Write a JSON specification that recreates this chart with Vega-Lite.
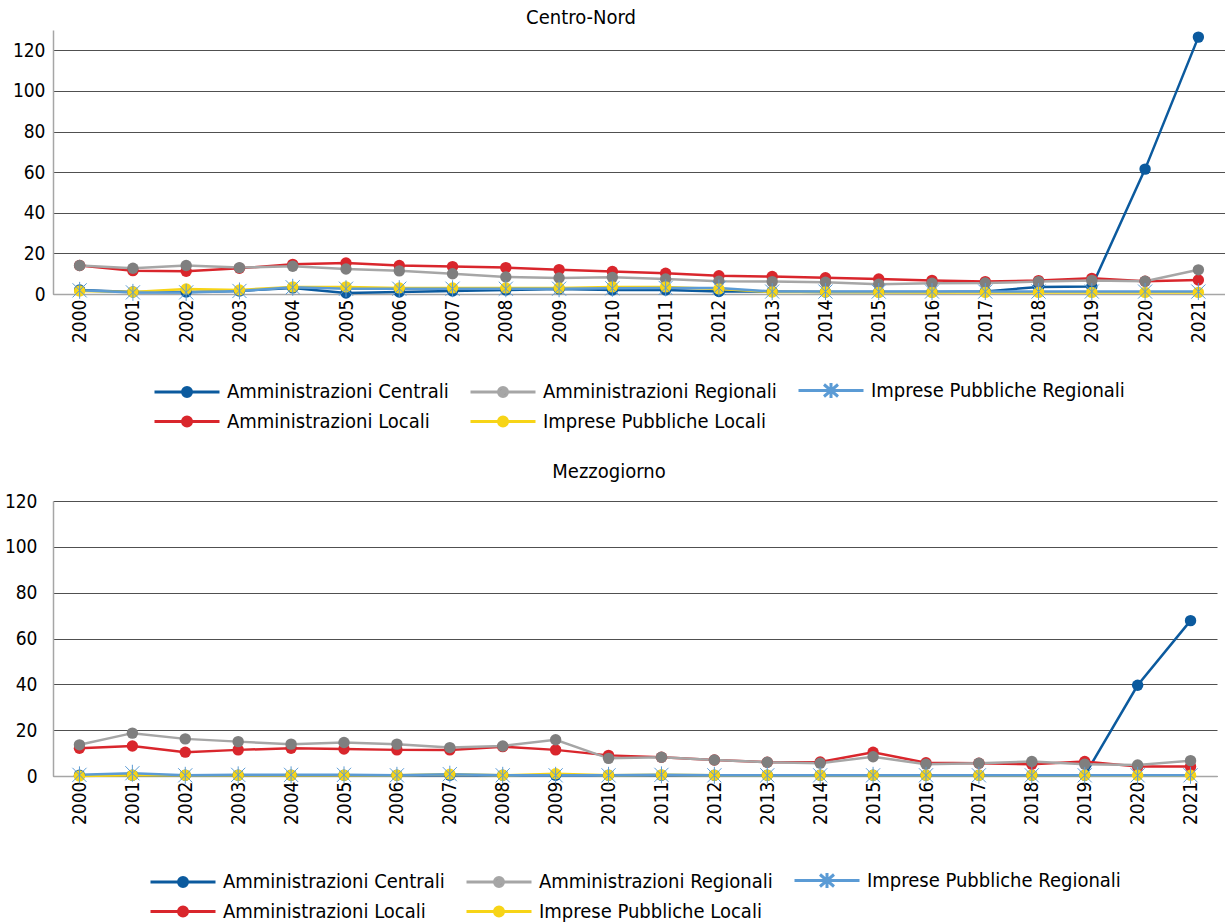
{
"$schema": "https://vega.github.io/schema/vega-lite/v6.json",
"padding": {"left": 4, "top": 8, "right": 0, "bottom": 0},
"spacing": 30,
"align": "none",
"config": {
 "font": "'DejaVu Sans Condensed', 'Roboto Condensed', Roboto",
 "view": {"stroke": null},
 "axis": {"labelFont": "'DejaVu Sans Condensed', 'Roboto Condensed', Roboto", "labelFontSize": 19, "labelColor": "#000", "title": null, "ticks": false},
 "legend": {"labelFont": "'DejaVu Sans Condensed', 'Roboto Condensed', Roboto", "labelFontSize": 20, "labelColor": "#000", "symbolOpacity": 1, "layout": {"bottom": {"anchor": "middle"}}},
 "title": {"font": "'DejaVu Sans Condensed', 'Roboto Condensed', Roboto", "fontSize": 20, "fontWeight": "normal", "color": "#000"}
},
"resolve": {"scale": {"stroke": "independent", "shape": "independent", "fill": "independent"}, "legend": {"stroke": "independent", "shape": "independent", "fill": "independent"}},
"datasets": {
"cn": [
{"y":"2000","s":"Amministrazioni Centrali","v":2},{"y":"2001","s":"Amministrazioni Centrali","v":1},{"y":"2002","s":"Amministrazioni Centrali","v":1},{"y":"2003","s":"Amministrazioni Centrali","v":1.5},{"y":"2004","s":"Amministrazioni Centrali","v":3},{"y":"2005","s":"Amministrazioni Centrali","v":0.5},{"y":"2006","s":"Amministrazioni Centrali","v":1},{"y":"2007","s":"Amministrazioni Centrali","v":1.5},{"y":"2008","s":"Amministrazioni Centrali","v":2},{"y":"2009","s":"Amministrazioni Centrali","v":2.5},{"y":"2010","s":"Amministrazioni Centrali","v":2},{"y":"2011","s":"Amministrazioni Centrali","v":2},{"y":"2012","s":"Amministrazioni Centrali","v":1.2},{"y":"2013","s":"Amministrazioni Centrali","v":1.2},{"y":"2014","s":"Amministrazioni Centrali","v":1},{"y":"2015","s":"Amministrazioni Centrali","v":1},{"y":"2016","s":"Amministrazioni Centrali","v":1},{"y":"2017","s":"Amministrazioni Centrali","v":1.2},{"y":"2018","s":"Amministrazioni Centrali","v":3.5},{"y":"2019","s":"Amministrazioni Centrali","v":3.7},{"y":"2020","s":"Amministrazioni Centrali","v":61.5},{"y":"2021","s":"Amministrazioni Centrali","v":126.5},
{"y":"2000","s":"Amministrazioni Locali","v":14},{"y":"2001","s":"Amministrazioni Locali","v":11.5},{"y":"2002","s":"Amministrazioni Locali","v":11.2},{"y":"2003","s":"Amministrazioni Locali","v":12.7},{"y":"2004","s":"Amministrazioni Locali","v":14.6},{"y":"2005","s":"Amministrazioni Locali","v":15.3},{"y":"2006","s":"Amministrazioni Locali","v":14},{"y":"2007","s":"Amministrazioni Locali","v":13.5},{"y":"2008","s":"Amministrazioni Locali","v":13},{"y":"2009","s":"Amministrazioni Locali","v":12},{"y":"2010","s":"Amministrazioni Locali","v":11.1},{"y":"2011","s":"Amministrazioni Locali","v":10.2},{"y":"2012","s":"Amministrazioni Locali","v":9},{"y":"2013","s":"Amministrazioni Locali","v":8.6},{"y":"2014","s":"Amministrazioni Locali","v":8},{"y":"2015","s":"Amministrazioni Locali","v":7.4},{"y":"2016","s":"Amministrazioni Locali","v":6.7},{"y":"2017","s":"Amministrazioni Locali","v":6.1},{"y":"2018","s":"Amministrazioni Locali","v":6.6},{"y":"2019","s":"Amministrazioni Locali","v":7.7},{"y":"2020","s":"Amministrazioni Locali","v":6.3},{"y":"2021","s":"Amministrazioni Locali","v":6.9},
{"y":"2000","s":"Amministrazioni Regionali","v":14},{"y":"2001","s":"Amministrazioni Regionali","v":12.7},{"y":"2002","s":"Amministrazioni Regionali","v":14},{"y":"2003","s":"Amministrazioni Regionali","v":13},{"y":"2004","s":"Amministrazioni Regionali","v":13.7},{"y":"2005","s":"Amministrazioni Regionali","v":12.3},{"y":"2006","s":"Amministrazioni Regionali","v":11.4},{"y":"2007","s":"Amministrazioni Regionali","v":10},{"y":"2008","s":"Amministrazioni Regionali","v":8.4},{"y":"2009","s":"Amministrazioni Regionali","v":7.9},{"y":"2010","s":"Amministrazioni Regionali","v":8.2},{"y":"2011","s":"Amministrazioni Regionali","v":7.4},{"y":"2012","s":"Amministrazioni Regionali","v":6.3},{"y":"2013","s":"Amministrazioni Regionali","v":6.1},{"y":"2014","s":"Amministrazioni Regionali","v":5.8},{"y":"2015","s":"Amministrazioni Regionali","v":4.8},{"y":"2016","s":"Amministrazioni Regionali","v":5.3},{"y":"2017","s":"Amministrazioni Regionali","v":5.4},{"y":"2018","s":"Amministrazioni Regionali","v":6.1},{"y":"2019","s":"Amministrazioni Regionali","v":6.7},{"y":"2020","s":"Amministrazioni Regionali","v":6.3},{"y":"2021","s":"Amministrazioni Regionali","v":11.9},
{"y":"2000","s":"Imprese Pubbliche Locali","v":1.5},{"y":"2001","s":"Imprese Pubbliche Locali","v":1},{"y":"2002","s":"Imprese Pubbliche Locali","v":2.5},{"y":"2003","s":"Imprese Pubbliche Locali","v":2},{"y":"2004","s":"Imprese Pubbliche Locali","v":3.5},{"y":"2005","s":"Imprese Pubbliche Locali","v":3.5},{"y":"2006","s":"Imprese Pubbliche Locali","v":3},{"y":"2007","s":"Imprese Pubbliche Locali","v":3},{"y":"2008","s":"Imprese Pubbliche Locali","v":3},{"y":"2009","s":"Imprese Pubbliche Locali","v":3},{"y":"2010","s":"Imprese Pubbliche Locali","v":3.5},{"y":"2011","s":"Imprese Pubbliche Locali","v":3.5},{"y":"2012","s":"Imprese Pubbliche Locali","v":2.5},{"y":"2013","s":"Imprese Pubbliche Locali","v":1},{"y":"2014","s":"Imprese Pubbliche Locali","v":1},{"y":"2015","s":"Imprese Pubbliche Locali","v":0.8},{"y":"2016","s":"Imprese Pubbliche Locali","v":0.8},{"y":"2017","s":"Imprese Pubbliche Locali","v":0.8},{"y":"2018","s":"Imprese Pubbliche Locali","v":0.8},{"y":"2019","s":"Imprese Pubbliche Locali","v":0.8},{"y":"2020","s":"Imprese Pubbliche Locali","v":0.8},{"y":"2021","s":"Imprese Pubbliche Locali","v":0.8},
{"y":"2000","s":"Imprese Pubbliche Regionali","v":1.8},{"y":"2001","s":"Imprese Pubbliche Regionali","v":0.8},{"y":"2002","s":"Imprese Pubbliche Regionali","v":0.8},{"y":"2003","s":"Imprese Pubbliche Regionali","v":1.5},{"y":"2004","s":"Imprese Pubbliche Regionali","v":3.3},{"y":"2005","s":"Imprese Pubbliche Regionali","v":2.6},{"y":"2006","s":"Imprese Pubbliche Regionali","v":2.6},{"y":"2007","s":"Imprese Pubbliche Regionali","v":2.6},{"y":"2008","s":"Imprese Pubbliche Regionali","v":2.6},{"y":"2009","s":"Imprese Pubbliche Regionali","v":2.6},{"y":"2010","s":"Imprese Pubbliche Regionali","v":2.8},{"y":"2011","s":"Imprese Pubbliche Regionali","v":3},{"y":"2012","s":"Imprese Pubbliche Regionali","v":3},{"y":"2013","s":"Imprese Pubbliche Regionali","v":1.2},{"y":"2014","s":"Imprese Pubbliche Regionali","v":1.2},{"y":"2015","s":"Imprese Pubbliche Regionali","v":1.2},{"y":"2016","s":"Imprese Pubbliche Regionali","v":1.2},{"y":"2017","s":"Imprese Pubbliche Regionali","v":1.2},{"y":"2018","s":"Imprese Pubbliche Regionali","v":1.2},{"y":"2019","s":"Imprese Pubbliche Regionali","v":1.2},{"y":"2020","s":"Imprese Pubbliche Regionali","v":1.2},{"y":"2021","s":"Imprese Pubbliche Regionali","v":1.2}
],
"mz": [
{"y":"2000","s":"Amministrazioni Centrali","v":0.3},{"y":"2001","s":"Amministrazioni Centrali","v":0.3},{"y":"2002","s":"Amministrazioni Centrali","v":0.3},{"y":"2003","s":"Amministrazioni Centrali","v":0.3},{"y":"2004","s":"Amministrazioni Centrali","v":0.3},{"y":"2005","s":"Amministrazioni Centrali","v":0.3},{"y":"2006","s":"Amministrazioni Centrali","v":0.3},{"y":"2007","s":"Amministrazioni Centrali","v":0.3},{"y":"2008","s":"Amministrazioni Centrali","v":0.3},{"y":"2009","s":"Amministrazioni Centrali","v":0.3},{"y":"2010","s":"Amministrazioni Centrali","v":0.3},{"y":"2011","s":"Amministrazioni Centrali","v":0.3},{"y":"2012","s":"Amministrazioni Centrali","v":0.3},{"y":"2013","s":"Amministrazioni Centrali","v":0.3},{"y":"2014","s":"Amministrazioni Centrali","v":0.3},{"y":"2015","s":"Amministrazioni Centrali","v":0.3},{"y":"2016","s":"Amministrazioni Centrali","v":0.3},{"y":"2017","s":"Amministrazioni Centrali","v":0.3},{"y":"2018","s":"Amministrazioni Centrali","v":0.3},{"y":"2019","s":"Amministrazioni Centrali","v":0.3},{"y":"2020","s":"Amministrazioni Centrali","v":39.6},{"y":"2021","s":"Amministrazioni Centrali","v":67.8},
{"y":"2000","s":"Amministrazioni Locali","v":12.1},{"y":"2001","s":"Amministrazioni Locali","v":13.1},{"y":"2002","s":"Amministrazioni Locali","v":10.4},{"y":"2003","s":"Amministrazioni Locali","v":11.4},{"y":"2004","s":"Amministrazioni Locali","v":12.1},{"y":"2005","s":"Amministrazioni Locali","v":11.8},{"y":"2006","s":"Amministrazioni Locali","v":11.4},{"y":"2007","s":"Amministrazioni Locali","v":11.4},{"y":"2008","s":"Amministrazioni Locali","v":12.8},{"y":"2009","s":"Amministrazioni Locali","v":11.4},{"y":"2010","s":"Amministrazioni Locali","v":9},{"y":"2011","s":"Amministrazioni Locali","v":8.2},{"y":"2012","s":"Amministrazioni Locali","v":7},{"y":"2013","s":"Amministrazioni Locali","v":6},{"y":"2014","s":"Amministrazioni Locali","v":6.1},{"y":"2015","s":"Amministrazioni Locali","v":10.4},{"y":"2016","s":"Amministrazioni Locali","v":5.8},{"y":"2017","s":"Amministrazioni Locali","v":5.6},{"y":"2018","s":"Amministrazioni Locali","v":5.1},{"y":"2019","s":"Amministrazioni Locali","v":6.3},{"y":"2020","s":"Amministrazioni Locali","v":4.1},{"y":"2021","s":"Amministrazioni Locali","v":4.1},
{"y":"2000","s":"Amministrazioni Regionali","v":13.6},{"y":"2001","s":"Amministrazioni Regionali","v":18.7},{"y":"2002","s":"Amministrazioni Regionali","v":16.2},{"y":"2003","s":"Amministrazioni Regionali","v":15},{"y":"2004","s":"Amministrazioni Regionali","v":13.9},{"y":"2005","s":"Amministrazioni Regionali","v":14.6},{"y":"2006","s":"Amministrazioni Regionali","v":13.9},{"y":"2007","s":"Amministrazioni Regionali","v":12.4},{"y":"2008","s":"Amministrazioni Regionali","v":13.1},{"y":"2009","s":"Amministrazioni Regionali","v":15.8},{"y":"2010","s":"Amministrazioni Regionali","v":7.7},{"y":"2011","s":"Amministrazioni Regionali","v":8.2},{"y":"2012","s":"Amministrazioni Regionali","v":7},{"y":"2013","s":"Amministrazioni Regionali","v":6},{"y":"2014","s":"Amministrazioni Regionali","v":5.6},{"y":"2015","s":"Amministrazioni Regionali","v":8.4},{"y":"2016","s":"Amministrazioni Regionali","v":5.1},{"y":"2017","s":"Amministrazioni Regionali","v":5.6},{"y":"2018","s":"Amministrazioni Regionali","v":6.3},{"y":"2019","s":"Amministrazioni Regionali","v":5.1},{"y":"2020","s":"Amministrazioni Regionali","v":4.8},{"y":"2021","s":"Amministrazioni Regionali","v":6.7},
{"y":"2000","s":"Imprese Pubbliche Locali","v":0},{"y":"2001","s":"Imprese Pubbliche Locali","v":0.3},{"y":"2002","s":"Imprese Pubbliche Locali","v":0.3},{"y":"2003","s":"Imprese Pubbliche Locali","v":0.3},{"y":"2004","s":"Imprese Pubbliche Locali","v":0.3},{"y":"2005","s":"Imprese Pubbliche Locali","v":0.3},{"y":"2006","s":"Imprese Pubbliche Locali","v":0.3},{"y":"2007","s":"Imprese Pubbliche Locali","v":0.8},{"y":"2008","s":"Imprese Pubbliche Locali","v":0.3},{"y":"2009","s":"Imprese Pubbliche Locali","v":1},{"y":"2010","s":"Imprese Pubbliche Locali","v":0.3},{"y":"2011","s":"Imprese Pubbliche Locali","v":0.5},{"y":"2012","s":"Imprese Pubbliche Locali","v":0.3},{"y":"2013","s":"Imprese Pubbliche Locali","v":0.3},{"y":"2014","s":"Imprese Pubbliche Locali","v":0.3},{"y":"2015","s":"Imprese Pubbliche Locali","v":0.3},{"y":"2016","s":"Imprese Pubbliche Locali","v":0.3},{"y":"2017","s":"Imprese Pubbliche Locali","v":0.3},{"y":"2018","s":"Imprese Pubbliche Locali","v":0.3},{"y":"2019","s":"Imprese Pubbliche Locali","v":0.3},{"y":"2020","s":"Imprese Pubbliche Locali","v":0.3},{"y":"2021","s":"Imprese Pubbliche Locali","v":0.3},
{"y":"2000","s":"Imprese Pubbliche Regionali","v":0.5},{"y":"2001","s":"Imprese Pubbliche Regionali","v":1.2},{"y":"2002","s":"Imprese Pubbliche Regionali","v":0.3},{"y":"2003","s":"Imprese Pubbliche Regionali","v":0.5},{"y":"2004","s":"Imprese Pubbliche Regionali","v":0.5},{"y":"2005","s":"Imprese Pubbliche Regionali","v":0.5},{"y":"2006","s":"Imprese Pubbliche Regionali","v":0.3},{"y":"2007","s":"Imprese Pubbliche Regionali","v":0.8},{"y":"2008","s":"Imprese Pubbliche Regionali","v":0.3},{"y":"2009","s":"Imprese Pubbliche Regionali","v":0.3},{"y":"2010","s":"Imprese Pubbliche Regionali","v":0.3},{"y":"2011","s":"Imprese Pubbliche Regionali","v":0.5},{"y":"2012","s":"Imprese Pubbliche Regionali","v":0.3},{"y":"2013","s":"Imprese Pubbliche Regionali","v":0.3},{"y":"2014","s":"Imprese Pubbliche Regionali","v":0.3},{"y":"2015","s":"Imprese Pubbliche Regionali","v":0.3},{"y":"2016","s":"Imprese Pubbliche Regionali","v":0.3},{"y":"2017","s":"Imprese Pubbliche Regionali","v":0.3},{"y":"2018","s":"Imprese Pubbliche Regionali","v":0.3},{"y":"2019","s":"Imprese Pubbliche Regionali","v":0.3},{"y":"2020","s":"Imprese Pubbliche Regionali","v":0.3},{"y":"2021","s":"Imprese Pubbliche Regionali","v":0.3}
]
},
"vconcat": [
{
 "title": {"text": "Centro-Nord", "dx": -58, "offset": 2},
 "width": 1172, "height": 264,
 "data": {"name": "cn"},
 "encoding": {
  "x": {"field": "y", "type": "ordinal", "axis": {"labelAngle": -90, "labelPadding": 5, "domainColor": "#a6a6a6", "domainWidth": 1.5}},
  "y": {"field": "v", "type": "quantitative", "scale": {"domain": [0, 130], "nice": false}, "axis": {"values": [0, 20, 40, 60, 80, 100, 120], "labelPadding": 8, "gridColor": "#505050", "gridWidth": 1, "domainColor": "#a6a6a6", "domainWidth": 1.5}}
 },
 "layer": [
  {"transform": [{"filter": "datum.v < -1000"}],
   "mark": {"type": "point", "filled": false, "opacity": 1},
   "encoding": {
    "stroke": {"field": "s", "type": "nominal", "title": null, "legend": {"orient": "bottom", "direction": "horizontal", "columns": 3, "columnPadding": 15, "rowPadding": 6, "offset": 36, "symbolSize": 400, "symbolStrokeWidth": 3, "symbolOpacity": 1, "labelOffset": 51, "labelLimit": 400}},
    "shape": {"field": "s", "type": "nominal", "title": null, "scale": {"domain": ["Amministrazioni Centrali", "Amministrazioni Regionali", "Imprese Pubbliche Regionali", "Amministrazioni Locali", "Imprese Pubbliche Locali"], "range": [
      "M-1,0H5.5M2.7,0A0.45,0.45 0 1,1 1.8,0A0.45,0.45 0 1,1 2.7,0M2.4,0A0.15,0.15 0 1,1 2.1,0A0.15,0.15 0 1,1 2.4,0",
      "M-1,0H5.5M2.7,0A0.45,0.45 0 1,1 1.8,0A0.45,0.45 0 1,1 2.7,0M2.4,0A0.15,0.15 0 1,1 2.1,0A0.15,0.15 0 1,1 2.4,0",
      "M-1,0H5.5M1.55,-0.6L2.95,0.6M1.55,0.6L2.95,-0.6M2.25,-0.75V0.75",
      "M-1,0H5.5M2.7,0A0.45,0.45 0 1,1 1.8,0A0.45,0.45 0 1,1 2.7,0M2.4,0A0.15,0.15 0 1,1 2.1,0A0.15,0.15 0 1,1 2.4,0",
      "M-1,0H5.5M2.7,0A0.45,0.45 0 1,1 1.8,0A0.45,0.45 0 1,1 2.7,0M2.4,0A0.15,0.15 0 1,1 2.1,0A0.15,0.15 0 1,1 2.4,0"]},
     "legend": {"orient": "bottom", "direction": "horizontal", "columns": 3, "columnPadding": 15, "rowPadding": 6, "offset": 36, "symbolSize": 400, "symbolStrokeWidth": 3, "symbolOpacity": 1, "labelOffset": 51, "labelLimit": 400}}
   }},
  {"mark": {"type": "line", "strokeWidth": 2.5},
   "encoding": {"stroke": {"field": "s", "type": "nominal", "scale": {"domain": ["Amministrazioni Centrali", "Amministrazioni Regionali", "Imprese Pubbliche Regionali", "Amministrazioni Locali", "Imprese Pubbliche Locali"], "range": ["#0b5a9e", "#a6a6a6", "#5b9bd5", "#d9262c", "#f7d417"]}}}},
  {"transform": [{"filter": "datum.s != 'Imprese Pubbliche Regionali'"}],
   "mark": {"type": "point", "shape": "circle", "filled": true, "size": 130, "opacity": 1},
   "encoding": {"fill": {"field": "s", "type": "nominal", "legend": null, "scale": {"domain": ["Amministrazioni Centrali", "Amministrazioni Regionali", "Imprese Pubbliche Regionali", "Amministrazioni Locali", "Imprese Pubbliche Locali"], "range": ["#0b5a9e", "#7f7f7f", "#5b9bd5", "#d9262c", "#f7d417"]}}}},
  {"transform": [{"filter": "datum.s == 'Imprese Pubbliche Regionali'"}],
   "mark": {"type": "point", "shape": "M-1,-1L1,1M-1,1L1,-1M0,-1.2V1.2", "filled": false, "size": 200, "strokeWidth": 1, "opacity": 1},
   "encoding": {"stroke": {"field": "s", "type": "nominal"}}}
 ]
},
{
 "title": {"text": "Mezzogiorno", "dx": -26, "offset": 10},
 "width": 1164, "height": 275,
 "data": {"name": "mz"},
 "encoding": {
  "x": {"field": "y", "type": "ordinal", "axis": {"labelAngle": -90, "labelPadding": 5, "domainColor": "#a6a6a6", "domainWidth": 1.5}},
  "y": {"field": "v", "type": "quantitative", "scale": {"domain": [0, 120], "nice": false}, "axis": {"values": [0, 20, 40, 60, 80, 100, 120], "labelPadding": 16, "gridColor": "#505050", "gridWidth": 1, "domainColor": "#a6a6a6", "domainWidth": 1.5}}
 },
 "layer": [
  {"transform": [{"filter": "datum.v < -1000"}],
   "mark": {"type": "point", "filled": false, "opacity": 1},
   "encoding": {
    "stroke": {"field": "s", "type": "nominal", "title": null, "legend": {"orient": "bottom", "direction": "horizontal", "columns": 3, "columnPadding": 15, "rowPadding": 6, "offset": 44, "symbolSize": 400, "symbolStrokeWidth": 3, "symbolOpacity": 1, "labelOffset": 51, "labelLimit": 400}},
    "shape": {"field": "s", "type": "nominal", "title": null, "scale": {"domain": ["Amministrazioni Centrali", "Amministrazioni Regionali", "Imprese Pubbliche Regionali", "Amministrazioni Locali", "Imprese Pubbliche Locali"], "range": [
      "M-1,0H5.5M2.7,0A0.45,0.45 0 1,1 1.8,0A0.45,0.45 0 1,1 2.7,0M2.4,0A0.15,0.15 0 1,1 2.1,0A0.15,0.15 0 1,1 2.4,0",
      "M-1,0H5.5M2.7,0A0.45,0.45 0 1,1 1.8,0A0.45,0.45 0 1,1 2.7,0M2.4,0A0.15,0.15 0 1,1 2.1,0A0.15,0.15 0 1,1 2.4,0",
      "M-1,0H5.5M1.55,-0.6L2.95,0.6M1.55,0.6L2.95,-0.6M2.25,-0.75V0.75",
      "M-1,0H5.5M2.7,0A0.45,0.45 0 1,1 1.8,0A0.45,0.45 0 1,1 2.7,0M2.4,0A0.15,0.15 0 1,1 2.1,0A0.15,0.15 0 1,1 2.4,0",
      "M-1,0H5.5M2.7,0A0.45,0.45 0 1,1 1.8,0A0.45,0.45 0 1,1 2.7,0M2.4,0A0.15,0.15 0 1,1 2.1,0A0.15,0.15 0 1,1 2.4,0"]},
     "legend": {"orient": "bottom", "direction": "horizontal", "columns": 3, "columnPadding": 15, "rowPadding": 6, "offset": 44, "symbolSize": 400, "symbolStrokeWidth": 3, "symbolOpacity": 1, "labelOffset": 51, "labelLimit": 400}}
   }},
  {"mark": {"type": "line", "strokeWidth": 2.5},
   "encoding": {"stroke": {"field": "s", "type": "nominal", "scale": {"domain": ["Amministrazioni Centrali", "Amministrazioni Regionali", "Imprese Pubbliche Regionali", "Amministrazioni Locali", "Imprese Pubbliche Locali"], "range": ["#0b5a9e", "#a6a6a6", "#5b9bd5", "#d9262c", "#f7d417"]}}}},
  {"transform": [{"filter": "datum.s != 'Imprese Pubbliche Regionali'"}],
   "mark": {"type": "point", "shape": "circle", "filled": true, "size": 130, "opacity": 1},
   "encoding": {"fill": {"field": "s", "type": "nominal", "legend": null, "scale": {"domain": ["Amministrazioni Centrali", "Amministrazioni Regionali", "Imprese Pubbliche Regionali", "Amministrazioni Locali", "Imprese Pubbliche Locali"], "range": ["#0b5a9e", "#7f7f7f", "#5b9bd5", "#d9262c", "#f7d417"]}}}},
  {"transform": [{"filter": "datum.s == 'Imprese Pubbliche Regionali'"}],
   "mark": {"type": "point", "shape": "M-1,-1L1,1M-1,1L1,-1M0,-1.2V1.2", "filled": false, "size": 200, "strokeWidth": 1, "opacity": 1},
   "encoding": {"stroke": {"field": "s", "type": "nominal"}}}
 ]
}
]
}
